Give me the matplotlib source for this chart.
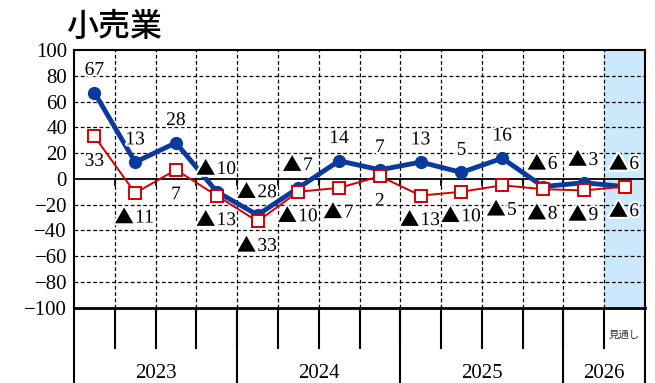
import matplotlib
matplotlib.use("Agg")
import matplotlib.pyplot as plt
import matplotlib.patheffects as pe

years = ["2023", "2024", "2025", "2026"]
quarters_per_year = [4, 4, 4, 2]
forecast_label = "見通し"
title = "小売業"

series_blue = [67, 13, 28, -10, -28, -7, 14, 7, 13, 5, 16, -6, -3, -6]
series_red = [33, -11, 7, -13, -33, -10, -7, 2, -13, -10, -5, -8, -9, -6]
yticks = [100, 80, 60, 40, 20, 0, -20, -40, -60, -80, -100]

SERIF = ["Liberation Serif"]
CJK = ["Noto Sans CJK JP"]
BLUE = "#0b3a9e"
RED = "#d40000"
FS = 15
LFS = 14

fig = plt.figure(figsize=(6.55, 3.83), dpi=100)
ax = fig.add_axes([74/655, 1-307.7/383, (645-74)/655, (307.7-50)/383])
n = len(series_blue)
xs = list(range(n))
ax.set_xlim(-0.5, n-0.5)
ax.set_ylim(-100, 100)

# forecast shading
ax.axvspan(n-1.5, n-0.5, color="#cce9fb", zorder=0, lw=0)

# grid
for yv in yticks:
    if yv not in (100, -100, 0):
        ax.axhline(yv, color="black", lw=0.9, ls=(0, (3, 2)), zorder=1)
for i in range(1, n):
    ax.axvline(i-0.5, color="black", lw=0.9, ls=(0, (3, 2)), zorder=1)
ax.axhline(0, color="black", lw=1.3, zorder=2)
for i in range(1, n):
    ax.plot([i-0.5, i-0.5], [0, -5], color="black", lw=1.3, zorder=2)

ax.plot(xs, series_red, color=RED, lw=1.4, marker="s", ms=8, mfc="white",
        mec=RED, mew=1.4, zorder=4)
ax.plot(xs, series_blue, color=BLUE, lw=3.5, marker="o", ms=8.5, mfc=BLUE,
        mec=BLUE, zorder=3)

halo = [pe.withStroke(linewidth=3, foreground="white")]
TRI_W = 13.0   # width of the triangle glyph, points
DIG_W = 7.0    # width of one digit, points
GAP = 0.8

def label(x, v, dy):
    num = str(abs(v))
    if v < 0:
        jx = (TRI_W - DIG_W*len(num)) / 2.0
        ax.annotate("▲", (x, v), xytext=(jx - GAP/2, dy), textcoords="offset points",
                    ha="right", va="center", fontsize=LFS, family=CJK,
                    path_effects=halo, zorder=6)
        ax.annotate(num, (x, v), xytext=(jx + GAP/2, dy), textcoords="offset points",
                    ha="left", va="center", fontsize=LFS, family=SERIF,
                    path_effects=halo, zorder=6)
    else:
        ax.annotate(num, (x, v), xytext=(0, dy), textcoords="offset points",
                    ha="center", va="center", fontsize=LFS, family=SERIF,
                    path_effects=halo, zorder=6)

for x, v in zip(xs, series_blue):
    label(x, v, 16)
for x, v in zip(xs, series_red):
    label(x, v, -18)

ax.set_yticks(yticks)
ax.set_yticklabels([("\u2212" + str(abs(t))) if t < 0 else str(t) for t in yticks],
                   family=SERIF, fontsize=FS)
ax.tick_params(axis="y", length=0, pad=5)
ax.set_xticks([])
for s in ["top", "right", "left"]:
    ax.spines[s].set_linewidth(1.5)
ax.spines["bottom"].set_linewidth(2.0)

# lower category area
px = 200/257.7
y_q = -100 - 40.3*px
y_bot = -100 - 76*px
for i in range(1, n):
    ax.plot([i-0.5, i-0.5], [-100, y_q], color="black", lw=1.5, clip_on=False)
bounds = [-0.5]
for q in quarters_per_year:
    bounds.append(bounds[-1] + q)
for b in bounds:
    ax.plot([b, b], [-100, y_bot], color="black", lw=1.5, clip_on=False)
for yr, a, b in zip(years, bounds[:-1], bounds[1:]):
    ax.text((a+b)/2, -100 - 65.5*px, yr, ha="center", va="center",
            family=SERIF, fontsize=FS, clip_on=False)
ax.text(n-1, -100 - 27.5*px, forecast_label, ha="center", va="center",
        family=CJK, fontsize=7.5, color="#333333", clip_on=False)

fig.text(66/655, 1-27/383, title, ha="left", va="center",
         family=CJK, fontsize=23, fontweight="medium")

fig.savefig("out.png", dpi=100)
